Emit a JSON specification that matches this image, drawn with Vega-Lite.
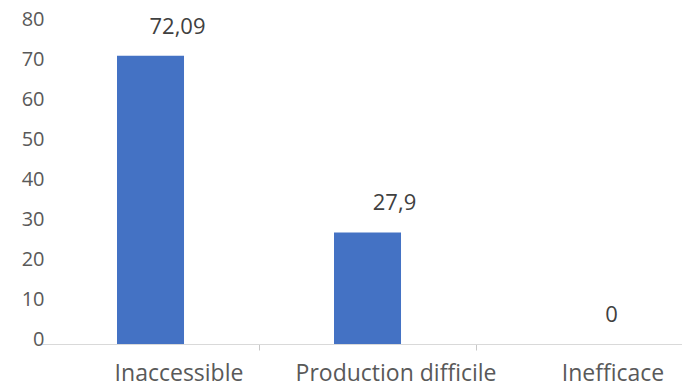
{
  "$schema": "https://vega.github.io/schema/vega-lite/v6.json",
  "width": 640,
  "height": 320,
  "autosize": {"type": "none"},
  "padding": {"left": 42, "top": 24, "right": 0, "bottom": 43},
  "background": "white",
  "config": {"view": {"stroke": null}, "font": "Open Sans"},
  "data": {
    "values": [
      {"cause": "Inaccessible", "pct": 72.09, "label": "72,09"},
      {"cause": "Production difficile", "pct": 27.9, "label": "27,9"},
      {"cause": "Inefficace", "pct": 0, "label": "0"}
    ]
  },
  "encoding": {
    "x": {
      "field": "cause",
      "type": "nominal",
      "sort": null,
      "scale": {"paddingInner": 0.6912, "paddingOuter": 0.3203, "align": 0.5396},
      "axis": {
        "title": null,
        "labelAngle": 0,
        "labelLimit": 0,
        "domainColor": "#d9d9d9",
        "tickColor": "#c8c8c8",
        "bandPosition": 1,
        "tickOffset": 75,
        "tickSize": 6,
        "labelFontSize": 23,
        "labelColor": "#595959",
        "labelBaseline": "alphabetic",
        "labelPadding": 30,
        "labelOffset": -47,
        "grid": false
      }
    },
    "y": {
      "field": "pct",
      "type": "quantitative",
      "scale": {"domain": [0, 80]},
      "axis": {
        "title": null,
        "domain": false,
        "ticks": false,
        "grid": false,
        "values": [0, 10, 20, 30, 40, 50, 60, 70, 80],
        "labelFontSize": 20,
        "labelColor": "#595959",
        "labelPadding": -2,
        "labelOffset": -5
      }
    }
  },
  "layer": [
    {"mark": {"type": "bar", "color": "#4472C4"}},
    {
      "mark": {"type": "text", "dx": 27, "dy": -22, "baseline": "alphabetic", "fontSize": 22, "color": "#404040"},
      "encoding": {"text": {"field": "label"}}
    }
  ]
}
